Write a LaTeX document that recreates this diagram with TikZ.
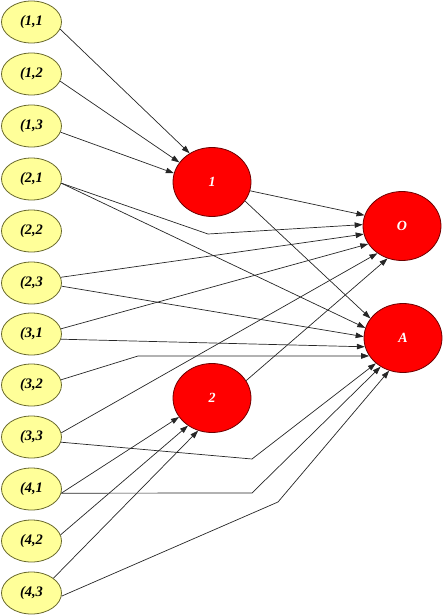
\documentclass[tikz,border=0pt]{standalone}
\usepackage{fontspec}
\setmainfont{Liberation Serif}
\usetikzlibrary{shapes.geometric,arrows.meta}
\definecolor{inyellow}{RGB}{255,255,153}
\definecolor{inedge}{RGB}{105,105,45}
\definecolor{hidred}{RGB}{255,0,0}
\definecolor{hidedge}{RGB}{110,0,0}
\tikzset{
    inp/.style={ellipse,draw=inedge,fill=inyellow,line width=0.8pt,minimum width=60pt,minimum height=42pt,inner sep=0pt,font=\fontsize{14.5}{16}\selectfont\bfseries\itshape},
    hid/.style={ellipse,draw=hidedge,fill=hidred,line width=0.8pt,minimum width=78pt,minimum height=69pt,inner sep=0pt,text=white,font=\fontsize{14}{16}\selectfont\bfseries\itshape},
    link/.style={draw=black!85,line width=0.7pt,-{Triangle[length=8pt,width=5.5pt]}}
}
\begin{document}
\begin{tikzpicture}[x=1pt,y=-1pt]
        \useasboundingbox (0,0) rectangle (443,616);
        \node[inp] (e11) at (31.5,22) {(1,1};
        \node[inp] (e12) at (31.5,74) {(1,2};
        \node[inp] (e13) at (31.5,126) {(1,3};
        \node[inp] (e21) at (31.5,179) {(2,1};
        \node[inp] (e22) at (31.5,231) {(2,2};
        \node[inp] (e23) at (31.5,283) {(2,3};
        \node[inp] (e31) at (31.5,334) {(3,1};
        \node[inp] (e32) at (31.5,385) {(3,2};
        \node[inp] (e33) at (31.5,437) {(3,3};
        \node[inp] (e41) at (31.5,489) {(4,1};
        \node[inp] (e42) at (31.5,541) {(4,2};
        \node[inp] (e43) at (31.5,593) {(4,3};

        \node[hid] (h1) at (212,182) {1};
        \node[hid] (h2) at (212,398) {2};
        \node[hid] (o) at (402,226) {O};
        \node[hid] (a) at (403,338) {A};

        \coordinate (b21) at (208,234);
        \coordinate (b32) at (138,356);
        \coordinate (b33) at (252,459);
        \coordinate (b41) at (252,493);
        \coordinate (b43) at (278,502);

        \draw[link] (e11.-14) -- (h1.128);
        \draw[link] (e12.-14) -- (h1.149);
        \draw[link] (e13.-12) -- (h1.167);
        \draw[link] (e21.-8) -- (b21) -- (o.178);
        \draw[link] (e21.-8) -- (a.165);
        \draw[link] (e23.11) -- (o.192);
        \draw[link] (e23.-6) -- (a.178);
        \draw[link] (e31.10) -- (o.208);
        \draw[link] (e31.-10) -- (a.193);
        \draw[link] (e32.10) -- (b32) -- (a.208);
        \draw[link] (e33.8) -- (o.228);
        \draw[link] (e33.-10) -- (b33) -- (a.223);
        \draw[link] (e41.-8) -- (h2.210);
        \draw[link] (e41.-8) -- (b41) -- (a.232);
        \draw[link] (e42.12) -- (h2.229);
        \draw[link] (e43.34) -- (h2.247);
        \draw[link] (e43.-6) -- (b43) -- (a.247);
        \draw[link] (h1.-13) -- (o.164);
        \draw[link] (h1.-30) -- (a.149);
        \draw[link] (h2.27) -- (o.246);
    \end{tikzpicture}
\end{document}
